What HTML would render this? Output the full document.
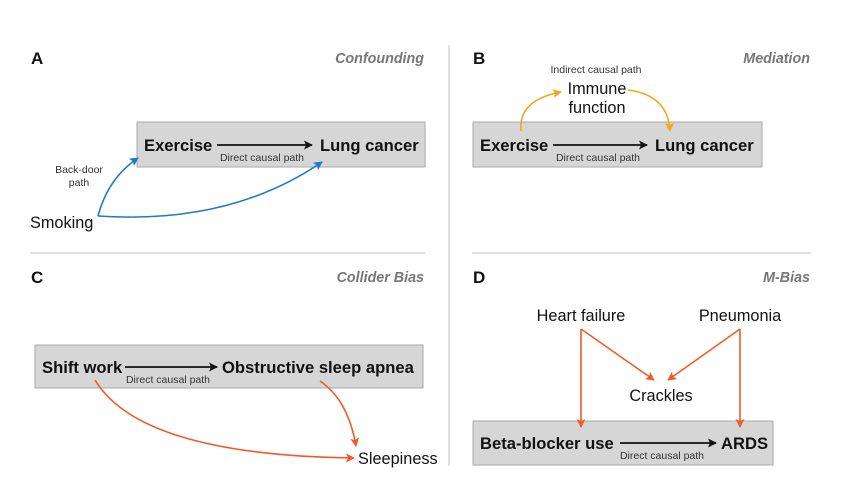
<!DOCTYPE html>
<html><head><meta charset="utf-8"><style>
body{margin:0;background:#fff;}
svg{display:block;font-family:"Liberation Sans",Arial,sans-serif;}
.b{font-weight:bold;font-size:16.6px;fill:#111}
.n{font-size:16.3px;fill:#111}
.s{font-size:10.5px;fill:#333}
.h{font-weight:bold;font-size:17px;fill:#111}
.t{font-weight:bold;font-style:italic;font-size:14.3px;fill:#777}
</style></head><body>
<svg width="864" height="483" viewBox="0 0 864 483">
<defs>
<marker id="k" markerWidth="9" markerHeight="9" refX="8" refY="4.5" orient="auto" markerUnits="userSpaceOnUse"><path d="M0,0 L9,4.5 L0,9 L2,4.5z" fill="#111"/></marker>
<marker id="bl" markerWidth="9" markerHeight="9" refX="8" refY="4.5" orient="auto" markerUnits="userSpaceOnUse"><path d="M0,0 L9,4.5 L0,9 L2,4.5z" fill="#1f78c8"/></marker>
<marker id="or" markerWidth="9" markerHeight="9" refX="8" refY="4.5" orient="auto" markerUnits="userSpaceOnUse"><path d="M0,0 L9,4.5 L0,9 L2,4.5z" fill="#f0a81c"/></marker>
<marker id="rd" markerWidth="9" markerHeight="9" refX="8" refY="4.5" orient="auto" markerUnits="userSpaceOnUse"><path d="M0,0 L9,4.5 L0,9 L2,4.5z" fill="#f05a28"/></marker>
</defs>
<line x1="449" y1="45" x2="449" y2="466" stroke="#ccc" stroke-width="1.2"/>
<line x1="30" y1="253" x2="425" y2="253" stroke="#ccc" stroke-width="1.2"/>
<line x1="472" y1="253" x2="811" y2="253" stroke="#ccc" stroke-width="1.2"/>

<!-- A -->
<text x="31" y="64" class="h">A</text>
<text x="424" y="63" class="t" text-anchor="end">Confounding</text>
<rect x="137" y="122" width="288" height="45" fill="#d6d6d6" stroke="#aaa"/>
<text x="144" y="151" class="b">Exercise</text>
<line x1="217" y1="145" x2="312" y2="145" stroke="#111" stroke-width="1.8" marker-end="url(#k)"/>
<text x="320" y="151" class="b">Lung cancer</text>
<text x="262" y="161" class="s" text-anchor="middle">Direct causal path</text>
<text x="79" y="173" class="s" text-anchor="middle">Back-door</text>
<text x="79" y="186" class="s" text-anchor="middle">path</text>
<text x="30" y="228" class="n">Smoking</text>
<path d="M98,216 Q108,178 138,158" fill="none" stroke="#1f78c8" stroke-width="1.6" marker-end="url(#bl)"/>
<path d="M98,216 Q230,225 322,162" fill="none" stroke="#1f78c8" stroke-width="1.6" marker-end="url(#bl)"/>

<!-- B -->
<text x="473" y="64" class="h">B</text>
<text x="810" y="63" class="t" text-anchor="end">Mediation</text>
<text x="596" y="73" class="s" text-anchor="middle">Indirect causal path</text>
<text x="597" y="94" class="n" text-anchor="middle">Immune</text>
<text x="597" y="113" class="n" text-anchor="middle">function</text>
<rect x="473" y="122" width="289" height="45" fill="#d6d6d6" stroke="#aaa"/>
<text x="480" y="151" class="b">Exercise</text>
<line x1="553" y1="145" x2="647" y2="145" stroke="#111" stroke-width="1.8" marker-end="url(#k)"/>
<text x="655" y="151" class="b">Lung cancer</text>
<text x="598" y="161" class="s" text-anchor="middle">Direct causal path</text>
<path d="M521,131 Q518,100 561,92" fill="none" stroke="#f0a81c" stroke-width="1.6" marker-end="url(#or)"/>
<path d="M628,90 Q668,95 670,131" fill="none" stroke="#f0a81c" stroke-width="1.6" marker-end="url(#or)"/>

<!-- C -->
<text x="31" y="283" class="h">C</text>
<text x="424" y="282" class="t" text-anchor="end">Collider Bias</text>
<rect x="35" y="345" width="388" height="43" fill="#d6d6d6" stroke="#aaa"/>
<text x="42" y="373" class="b">Shift work</text>
<line x1="125" y1="367" x2="217" y2="367" stroke="#111" stroke-width="1.8" marker-end="url(#k)"/>
<text x="222" y="373" class="b">Obstructive sleep apnea</text>
<text x="168" y="383" class="s" text-anchor="middle">Direct causal path</text>
<text x="358" y="464" class="n">Sleepiness</text>
<path d="M95,380 Q140,455 354,458" fill="none" stroke="#f05a28" stroke-width="1.6" marker-end="url(#rd)"/>
<path d="M320,381 Q348,400 356,446" fill="none" stroke="#f05a28" stroke-width="1.6" marker-end="url(#rd)"/>

<!-- D -->
<text x="473" y="283" class="h">D</text>
<text x="810" y="282" class="t" text-anchor="end">M-Bias</text>
<text x="581" y="321" class="n" text-anchor="middle">Heart failure</text>
<text x="740" y="321" class="n" text-anchor="middle">Pneumonia</text>
<text x="661" y="401" class="n" text-anchor="middle">Crackles</text>
<rect x="473" y="421" width="300" height="44" fill="#d6d6d6" stroke="#aaa"/>
<text x="480" y="449" class="b">Beta-blocker use</text>
<line x1="620" y1="443" x2="716" y2="443" stroke="#111" stroke-width="1.8" marker-end="url(#k)"/>
<text x="721" y="449" class="b">ARDS</text>
<text x="662" y="459" class="s" text-anchor="middle">Direct causal path</text>
<g stroke="#f05a28" stroke-width="1.6" fill="none">
<line x1="581" y1="329" x2="581" y2="427" marker-end="url(#rd)"/>
<line x1="581" y1="329" x2="654" y2="380" marker-end="url(#rd)"/>
<line x1="740" y1="329" x2="740" y2="427" marker-end="url(#rd)"/>
<line x1="740" y1="329" x2="668" y2="380" marker-end="url(#rd)"/>
</g>
</svg>
</body></html>
